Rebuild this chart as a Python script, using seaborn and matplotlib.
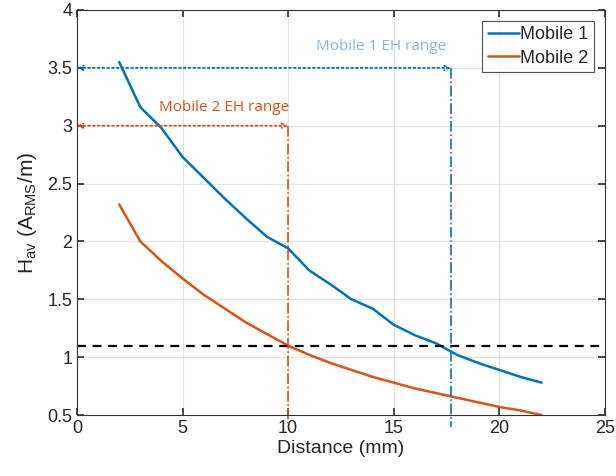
import numpy as np
import pandas as pd
import matplotlib.pyplot as plt
import seaborn as sns

distance = list(range(2, 23))
mobile1 = [3.55, 3.16, 2.98, 2.73, 2.55, 2.37, 2.20, 2.04, 1.94, 1.75, 1.63,
           1.50, 1.42, 1.28, 1.19, 1.12, 1.02, 0.95, 0.89, 0.83, 0.78]
mobile2 = [2.32, 2.00, 1.83, 1.68, 1.54, 1.42, 1.30, 1.20, 1.10, 1.02, 0.95,
           0.89, 0.83, 0.78, 0.73, 0.69, 0.65, 0.61, 0.57, 0.54, 0.50]
threshold = 1.1
range1 = (17.7, 3.5)
range2 = (10.0, 3.0)

BLUE = "#0072BD"
ORANGE = "#D95319"

df = pd.DataFrame({
    "Distance": distance * 2,
    "H": mobile1 + mobile2,
    "Device": ["Mobile 1"] * len(distance) + ["Mobile 2"] * len(distance),
})

sns.set_theme(style="ticks")
plt.rcParams["font.family"] = ["Liberation Sans", "DejaVu Sans"]

fig = plt.figure(figsize=(6.16, 4.76), dpi=100)
ax = fig.add_axes([0.125, 0.128, 0.857, 0.851])

sns.lineplot(data=df, x="Distance", y="H", hue="Device",
             palette=[BLUE, ORANGE], linewidth=1.8, ax=ax)

ax.axhline(threshold, color="black", linestyle="--", linewidth=1.6, dashes=(4, 3))

# EH range markers
for (xr, yr), col in [(range1, BLUE), (range2, ORANGE)]:
    ax.annotate("", xy=(0, yr), xytext=(xr, yr),
                arrowprops=dict(arrowstyle="<->", color=col, linestyle=":",
                                linewidth=1.3, shrinkA=0, shrinkB=0,
                                mutation_scale=8))
    ax.plot([xr, xr], [yr, 0.4], color=col, linestyle="-.", linewidth=1.2,
            clip_on=False)

ax.text(14.4, 3.62, "Mobile 1 EH range", color="#80B9E4", fontsize=11,
        ha="center", va="bottom", family=["Open Sans", "DejaVu Sans"])
ax.text(6.96, 3.09, "Mobile 2 EH range", color=ORANGE, fontsize=11,
        ha="center", va="bottom", family=["Open Sans", "DejaVu Sans"])

ax.set_xlim(0, 25)
ax.set_ylim(0.5, 4)
ax.set_xticks([0, 5, 10, 15, 20, 25])
ax.set_yticks([0.5, 1, 1.5, 2, 2.5, 3, 3.5, 4])
ax.set_yticklabels(["0.5", "1", "1.5", "2", "2.5", "3", "3.5", "4"])
ax.grid(True, color="#e3e3e3", linewidth=0.8)
ax.set_axisbelow(True)
ax.tick_params(direction="in", top=True, right=True, labelsize=13,
               color="#333333", labelcolor="#262626", length=5)
for s in ax.spines.values():
    s.set_color("#333333")
    s.set_linewidth(0.8)

ax.set_xlabel("Distance (mm)", fontsize=14, color="#262626", labelpad=2)
ax.set_ylabel(r"H$_{\mathregular{av}}$ (A$_{\mathregular{RMS}}$/m)", fontsize=15,
              color="#262626", labelpad=6)

leg = ax.legend(loc="upper right", fontsize=13, frameon=True, fancybox=False,
                edgecolor="#262626", handlelength=1.7, handletextpad=0.1,
                borderpad=0.3, labelspacing=0.35, borderaxespad=0.6)
leg.get_frame().set_linewidth(0.8)

fig.savefig("out.png", dpi=100)
